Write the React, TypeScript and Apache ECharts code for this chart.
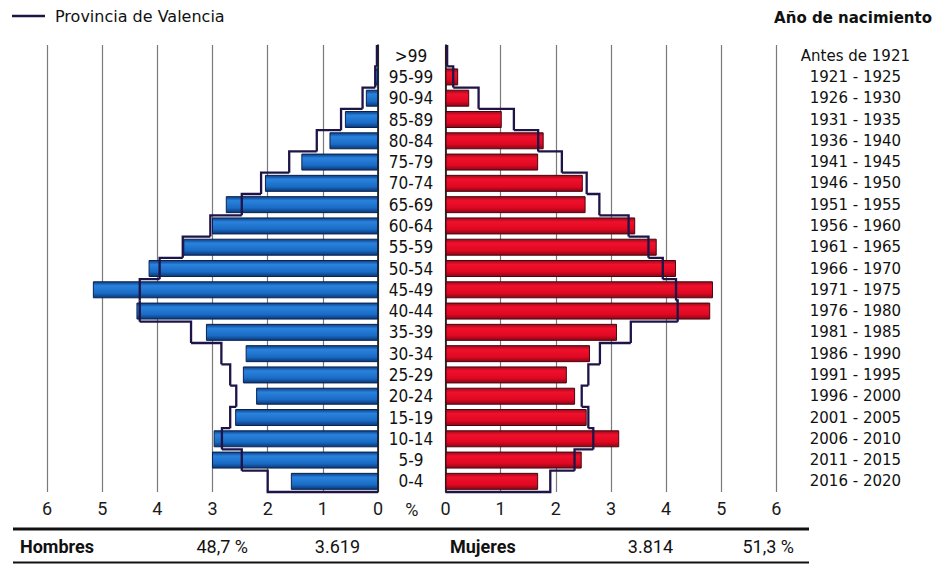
import React, { useEffect, useRef } from "react";
import * as echarts from "echarts";

// Age groups, bottom (0-4) to top (>99)
const ageGroups = ["0-4", "5-9", "10-14", "15-19", "20-24", "25-29", "30-34", "35-39", "40-44", "45-49", "50-54", "55-59", "60-64", "65-69", "70-74", "75-79", "80-84", "85-89", "90-94", "95-99", ">99"];
const birthYears = ["2016 - 2020", "2011 - 2015", "2006 - 2010", "2001 - 2005", "1996 - 2000", "1991 - 1995", "1986 - 1990", "1981 - 1985", "1976 - 1980", "1971 - 1975", "1966 - 1970", "1961 - 1965", "1956 - 1960", "1951 - 1955", "1946 - 1950", "1941 - 1945", "1936 - 1940", "1931 - 1935", "1926 - 1930", "1921 - 1925", "Antes de 1921"];

// Percentages (municipality bars)
const hombres = [1.58, 3.01, 2.98, 2.59, 2.21, 2.45, 2.40, 3.12, 4.38, 5.17, 4.16, 3.53, 3.01, 2.76, 2.05, 1.39, 0.88, 0.60, 0.22, 0.06, 0.02];
const mujeres = [1.68, 2.47, 3.15, 2.56, 2.35, 2.20, 2.62, 3.11, 4.80, 4.85, 4.18, 3.83, 3.44, 2.54, 2.49, 1.68, 1.78, 1.02, 0.43, 0.23, 0.02];

// Provincia de Valencia outline
const provHombres = [2.00, 2.47, 2.83, 2.68, 2.57, 2.68, 2.84, 3.39, 4.32, 4.32, 3.96, 3.54, 3.04, 2.47, 2.12, 1.61, 1.11, 0.67, 0.28, 0.05, 0.02];
const provMujeres = [1.90, 2.34, 2.68, 2.59, 2.47, 2.59, 2.80, 3.36, 4.21, 4.18, 3.94, 3.68, 3.32, 2.79, 2.56, 2.11, 1.68, 1.24, 0.60, 0.14, 0.03];

const legendLabel = "Provincia de Valencia";
const yearTitle = "Año de nacimiento";
const hombresLabel = "Hombres";
const mujeresLabel = "Mujeres";
const hombresPct = "48,7 %";
const hombresN = "3.619";
const mujeresN = "3.814";
const mujeresPct = "51,3 %";

const OUTLINE = "#1e1448";
const AGE_FONT = '"Liberation Sans Narrow", "DejaVu Sans Condensed", sans-serif';

function outlineRender(params: any, api: any) {
  const idx = params.dataIndex;
  const v = api.value(0);
  const next = api.value(2);
  const c = api.coord([v, idx]);
  const band = api.size([0, 1])[1];
  const bottom = c[1] + band / 2;
  const top = c[1] - band / 2;
  const pts: number[][] = [];
  if (idx === 0) {
    const z = api.coord([0, idx]);
    pts.push([z[0], bottom]);
  }
  pts.push([c[0], bottom]);
  pts.push([c[0], top]);
  if (next !== null && next !== undefined && !isNaN(next) && next >= 0) {
    const n = api.coord([next, idx + 1]);
    pts.push([n[0], top]);
  }
  return {
    type: "polyline",
    shape: { points: pts },
    style: { stroke: OUTLINE, lineWidth: 2.3, fill: "none", lineJoin: "miter" },
    z2: 10,
  };
}

function outlineData(vals: number[]) {
  return vals.map((v, i) => [v, i, i + 1 < vals.length ? vals[i + 1] : -1]);
}

const blueGrad = new echarts.graphic.LinearGradient(0, 0, 0, 1, [
  { offset: 0, color: "#0b3f86" },
  { offset: 0.25, color: "#2a82dc" },
  { offset: 0.7, color: "#1a6cc6" },
  { offset: 1, color: "#0a3777" },
]);
const redGrad = new echarts.graphic.LinearGradient(0, 0, 0, 1, [
  { offset: 0, color: "#9a0a1c" },
  { offset: 0.25, color: "#f0102c" },
  { offset: 0.7, color: "#e00822" },
  { offset: 1, color: "#8a0616" },
]);

export default function App() {
  const ref = useRef<HTMLDivElement>(null);
  useEffect(() => {
    document.body.style.margin = "0";
    const chart = echarts.init(ref.current!, null, { renderer: "svg" });
    const gridTop = 45;
    const gridH = 447;
    const unit = 55.15;
    const leftZero = 378;
    const rightZero = 445.5;
    const xAxisCommon = {
      type: "value",
      min: 0,
      max: 6,
      interval: 1,
      axisLine: { show: false },
      axisTick: { show: false },
      splitLine: { show: true, lineStyle: { color: "#7a7a7a", width: 1.2 } },
      axisLabel: { fontFamily: "Roboto", fontSize: 18, color: "#1a1a1a", margin: 7 },
    };
    chart.setOption({
      animation: false,
      backgroundColor: "#ffffff",
      grid: [
        { left: leftZero - 6 * unit, width: 6 * unit, top: gridTop, height: gridH },
        { left: rightZero, width: 6 * unit, top: gridTop, height: gridH },
      ],
      xAxis: [
        { ...xAxisCommon, gridIndex: 0, inverse: true },
        { ...xAxisCommon, gridIndex: 1 },
      ],
      yAxis: [
        {
          type: "category",
          gridIndex: 0,
          data: ageGroups,
          position: "right",
          axisLine: { show: true, lineStyle: { color: "#111", width: 1.6 } },
          axisTick: { show: false },
          axisLabel: { align: "center", margin: 33, fontFamily: AGE_FONT, fontSize: 17, color: "#111", interval: 0 },
        },
        {
          type: "category",
          gridIndex: 1,
          data: ageGroups,
          position: "left",
          axisLine: { show: true, lineStyle: { color: "#111", width: 1.6 } },
          axisTick: { show: false },
          axisLabel: { show: false },
        },
        {
          type: "category",
          gridIndex: 1,
          data: birthYears,
          position: "right",
          axisLine: { show: false },
          axisTick: { show: false },
          axisLabel: { align: "center", margin: 79, fontFamily: "DejaVu Sans", fontSize: 15, color: "#111", interval: 0 },
        },
      ],
      series: [
        {
          type: "bar",
          name: hombresLabel,
          xAxisIndex: 0,
          yAxisIndex: 0,
          data: hombres,
          barWidth: 17,
          itemStyle: { color: blueGrad, borderColor: "#0a2350", borderWidth: 1 },
          z: 2,
        },
        {
          type: "bar",
          name: mujeresLabel,
          xAxisIndex: 1,
          yAxisIndex: 1,
          data: mujeres,
          barWidth: 17,
          itemStyle: { color: redGrad, borderColor: "#4a0610", borderWidth: 1 },
          z: 2,
        },
        {
          type: "custom",
          name: legendLabel,
          xAxisIndex: 0,
          yAxisIndex: 0,
          renderItem: outlineRender,
          encode: { x: 0, y: 1 },
          data: outlineData(provHombres),
          z: 5,
          clip: false,
        },
        {
          type: "custom",
          name: legendLabel,
          xAxisIndex: 1,
          yAxisIndex: 1,
          renderItem: outlineRender,
          encode: { x: 0, y: 1 },
          data: outlineData(provMujeres),
          z: 5,
          clip: false,
        },
      ],
      graphic: [
        { type: "line", shape: { x1: 12, y1: 16, x2: 45, y2: 16 }, style: { stroke: OUTLINE, lineWidth: 2.3 } },
        { type: "text", x: 55, y: 16, style: { text: legendLabel, font: '16px "DejaVu Sans"', fill: "#111", verticalAlign: "middle" } },
        { type: "text", x: 932, y: 18, style: { text: yearTitle, font: 'bold 15px "DejaVu Sans"', fill: "#111", align: "right", verticalAlign: "middle" } },
        { type: "text", x: (leftZero + rightZero) / 2, y: 509, style: { text: "%", font: '18px Roboto', fill: "#1a1a1a", align: "center", verticalAlign: "middle" } },
        { type: "line", shape: { x1: 13, y1: 529, x2: 809, y2: 529 }, style: { stroke: "#111", lineWidth: 3 } },
        { type: "line", shape: { x1: 13, y1: 562.5, x2: 809, y2: 562.5 }, style: { stroke: "#111", lineWidth: 2 } },
        { type: "text", x: 20, y: 546, style: { text: hombresLabel, font: 'bold 18px Roboto', fill: "#111", verticalAlign: "middle" } },
        { type: "text", x: 248, y: 546, style: { text: hombresPct, font: '18px Roboto', fill: "#111", align: "right", verticalAlign: "middle" } },
        { type: "text", x: 360, y: 546, style: { text: hombresN, font: '18px Roboto', fill: "#111", align: "right", verticalAlign: "middle" } },
        { type: "text", x: 450, y: 546, style: { text: mujeresLabel, font: 'bold 18px Roboto', fill: "#111", verticalAlign: "middle" } },
        { type: "text", x: 673, y: 546, style: { text: mujeresN, font: '18px Roboto', fill: "#111", align: "right", verticalAlign: "middle" } },
        { type: "text", x: 794, y: 546, style: { text: mujeresPct, font: '18px Roboto', fill: "#111", align: "right", verticalAlign: "middle" } },
      ],
    });
    return () => chart.dispose();
  }, []);
  return <div ref={ref} style={{ width: 936, height: 564 }} />;
}
